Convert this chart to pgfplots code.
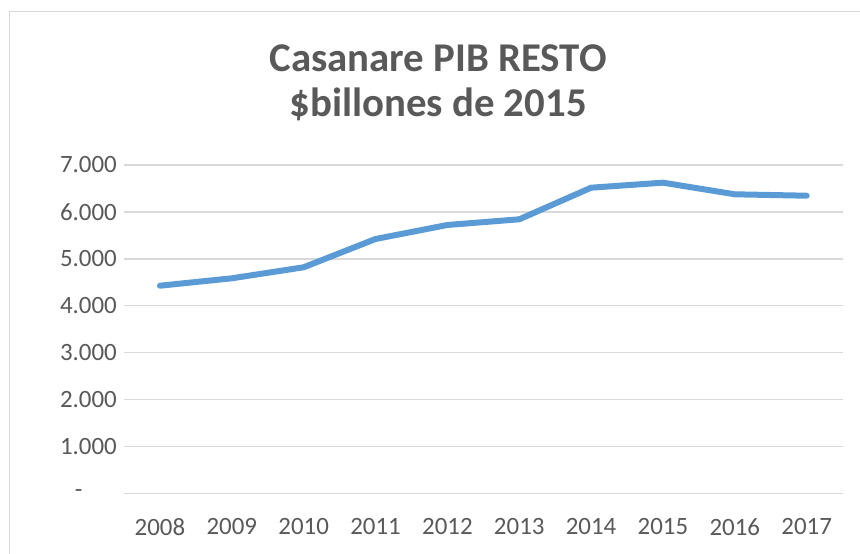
\documentclass[border=0pt]{standalone}
\usepackage{fontspec}
\setmainfont{Carlito}
\usepackage{pgfplots}
\pgfplotsset{compat=1.18}
\definecolor{gridgray}{HTML}{D9D9D9}
\definecolor{txtgray}{HTML}{595959}
\definecolor{lineblue}{HTML}{5B9BD5}
\begin{document}
\begin{tikzpicture}[x=1bp,y=1bp]
\useasboundingbox (0,0) rectangle (860,554);
\draw[gridgray, line width=1.5bp] (9.5,0) -- (9.5,542.5) -- (860,542.5);
\node[align=center, text=txtgray, font=\fontsize{41}{45}\selectfont\bfseries] at (438,471.5) {Casanare PIB RESTO\\\$billones de 2015};
\begin{axis}[
  at={(124bp,60.7bp)}, anchor=south west,
  scale only axis, width=718.6bp, height=328.3bp,
  xmin=-0.5, xmax=9.5, ymin=0, ymax=7000,
  xtick={0,...,9},
  xticklabels={2008,2009,2010,2011,2012,2013,2014,2015,2016,2017},
  ytick={0,1000,2000,3000,4000,5000,6000,7000},
  yticklabels={\makebox[57bp][l]{\hspace{15bp}-},1.000,2.000,3.000,4.000,5.000,6.000,7.000},
  axis line style={draw=none},
  major tick style={draw=none},
  ymajorgrids,
  grid style={gridgray, line width=1.5bp},
  ticklabel style={font=\fontsize{25}{29}\selectfont, text=txtgray, inner sep=0pt},
  yticklabel style={anchor=east, xshift=-7bp},
  xticklabel style={anchor=center, yshift=-33.7bp},
  clip=false,
]
\addplot[lineblue, line width=6bp, line cap=round, line join=round] coordinates {
(0,4426) (1,4584) (2,4819) (3,5422) (4,5721) (5,5842) (6,6516) (7,6623) (8,6375) (9,6345)
};
\end{axis}
\end{tikzpicture}
\end{document}
